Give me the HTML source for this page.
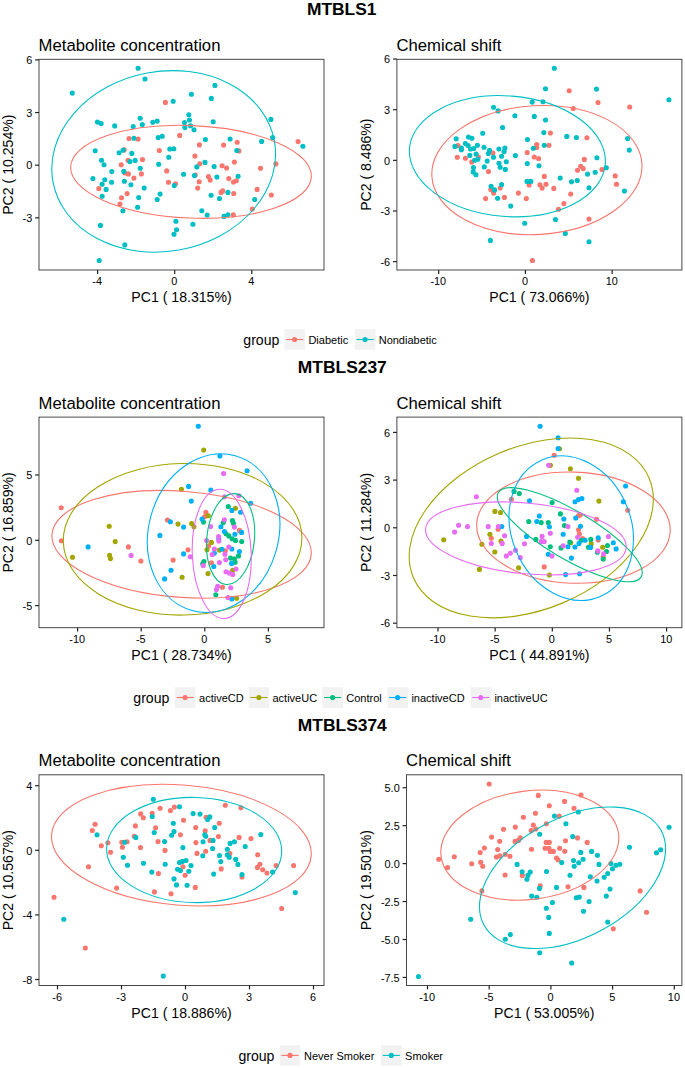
<!DOCTYPE html>
<html><head><meta charset="utf-8"><style>
html,body{margin:0;padding:0;background:#fff;}
body{width:685px;height:1068px;overflow:hidden;}
svg text{font-family:"Liberation Sans", sans-serif;}
</style></head><body>
<svg width="685" height="1068" viewBox="0 0 685 1068" style="display:block">
<rect width="685" height="1068" fill="#fff"/>
<text x="341.70" y="15.35" font-size="17.4" text-anchor="middle" font-weight="bold" fill="#000" >MTBLS1</text>
<text x="342.30" y="372.95" font-size="17.4" text-anchor="middle" font-weight="bold" fill="#000" >MTBLS237</text>
<text x="342.30" y="730.55" font-size="17.4" text-anchor="middle" font-weight="bold" fill="#000" >MTBLS374</text>
<clipPath id="cP1L"><rect x="39.0" y="59.3" width="285.0" height="210.7"/></clipPath>
<g clip-path="url(#cP1L)">
<circle cx="165.4" cy="102.4" r="2.55" fill="#F8766D"/>
<circle cx="129.0" cy="138.5" r="2.55" fill="#F8766D"/>
<circle cx="138.1" cy="139.1" r="2.55" fill="#F8766D"/>
<circle cx="179.7" cy="135.4" r="2.55" fill="#F8766D"/>
<circle cx="124.2" cy="149.9" r="2.55" fill="#F8766D"/>
<circle cx="159.3" cy="150.5" r="2.55" fill="#F8766D"/>
<circle cx="128.0" cy="160.2" r="2.55" fill="#F8766D"/>
<circle cx="142.5" cy="159.5" r="2.55" fill="#F8766D"/>
<circle cx="121.2" cy="164.8" r="2.55" fill="#F8766D"/>
<circle cx="199.4" cy="144.9" r="2.55" fill="#F8766D"/>
<circle cx="223.6" cy="145.1" r="2.55" fill="#F8766D"/>
<circle cx="237.2" cy="142.3" r="2.55" fill="#F8766D"/>
<circle cx="238.9" cy="150.9" r="2.55" fill="#F8766D"/>
<circle cx="298.1" cy="141.6" r="2.55" fill="#F8766D"/>
<circle cx="194.9" cy="156.1" r="2.55" fill="#F8766D"/>
<circle cx="199.8" cy="163.7" r="2.55" fill="#F8766D"/>
<circle cx="234.4" cy="162.1" r="2.55" fill="#F8766D"/>
<circle cx="222.1" cy="165.8" r="2.55" fill="#F8766D"/>
<circle cx="275.9" cy="163.9" r="2.55" fill="#F8766D"/>
<circle cx="166.7" cy="170.9" r="2.55" fill="#F8766D"/>
<circle cx="125.0" cy="173.0" r="2.55" fill="#F8766D"/>
<circle cx="128.4" cy="173.9" r="2.55" fill="#F8766D"/>
<circle cx="141.4" cy="173.9" r="2.55" fill="#F8766D"/>
<circle cx="133.9" cy="178.1" r="2.55" fill="#F8766D"/>
<circle cx="168.5" cy="182.3" r="2.55" fill="#F8766D"/>
<circle cx="175.5" cy="183.8" r="2.55" fill="#F8766D"/>
<circle cx="98.8" cy="188.6" r="2.55" fill="#F8766D"/>
<circle cx="127.1" cy="193.6" r="2.55" fill="#F8766D"/>
<circle cx="121.5" cy="197.8" r="2.55" fill="#F8766D"/>
<circle cx="120.0" cy="204.1" r="2.55" fill="#F8766D"/>
<circle cx="226.6" cy="168.0" r="2.55" fill="#F8766D"/>
<circle cx="260.5" cy="168.2" r="2.55" fill="#F8766D"/>
<circle cx="195.3" cy="175.1" r="2.55" fill="#F8766D"/>
<circle cx="208.5" cy="176.6" r="2.55" fill="#F8766D"/>
<circle cx="210.2" cy="180.1" r="2.55" fill="#F8766D"/>
<circle cx="199.2" cy="181.8" r="2.55" fill="#F8766D"/>
<circle cx="228.8" cy="178.6" r="2.55" fill="#F8766D"/>
<circle cx="233.5" cy="182.0" r="2.55" fill="#F8766D"/>
<circle cx="236.3" cy="180.7" r="2.55" fill="#F8766D"/>
<circle cx="197.7" cy="188.1" r="2.55" fill="#F8766D"/>
<circle cx="221.0" cy="192.4" r="2.55" fill="#F8766D"/>
<circle cx="222.7" cy="190.9" r="2.55" fill="#F8766D"/>
<circle cx="233.7" cy="193.5" r="2.55" fill="#F8766D"/>
<circle cx="257.1" cy="189.4" r="2.55" fill="#F8766D"/>
<circle cx="271.3" cy="195.0" r="2.55" fill="#F8766D"/>
<circle cx="252.3" cy="209.0" r="2.55" fill="#F8766D"/>
<circle cx="233.3" cy="214.9" r="2.55" fill="#F8766D"/>
<circle cx="138.1" cy="68.3" r="2.55" fill="#00BFC4"/>
<circle cx="145.0" cy="79.0" r="2.55" fill="#00BFC4"/>
<circle cx="72.3" cy="93.1" r="2.55" fill="#00BFC4"/>
<circle cx="173.2" cy="101.3" r="2.55" fill="#00BFC4"/>
<circle cx="97.5" cy="122.1" r="2.55" fill="#00BFC4"/>
<circle cx="101.1" cy="123.6" r="2.55" fill="#00BFC4"/>
<circle cx="114.7" cy="125.9" r="2.55" fill="#00BFC4"/>
<circle cx="133.2" cy="126.5" r="2.55" fill="#00BFC4"/>
<circle cx="140.2" cy="118.3" r="2.55" fill="#00BFC4"/>
<circle cx="142.3" cy="124.6" r="2.55" fill="#00BFC4"/>
<circle cx="152.8" cy="122.3" r="2.55" fill="#00BFC4"/>
<circle cx="157.2" cy="121.1" r="2.55" fill="#00BFC4"/>
<circle cx="133.9" cy="138.3" r="2.55" fill="#00BFC4"/>
<circle cx="158.2" cy="137.5" r="2.55" fill="#00BFC4"/>
<circle cx="162.2" cy="136.2" r="2.55" fill="#00BFC4"/>
<circle cx="95.2" cy="150.7" r="2.55" fill="#00BFC4"/>
<circle cx="119.1" cy="152.8" r="2.55" fill="#00BFC4"/>
<circle cx="123.1" cy="150.1" r="2.55" fill="#00BFC4"/>
<circle cx="131.8" cy="153.4" r="2.55" fill="#00BFC4"/>
<circle cx="169.8" cy="149.0" r="2.55" fill="#00BFC4"/>
<circle cx="173.8" cy="148.8" r="2.55" fill="#00BFC4"/>
<circle cx="168.8" cy="157.2" r="2.55" fill="#00BFC4"/>
<circle cx="101.5" cy="160.2" r="2.55" fill="#00BFC4"/>
<circle cx="129.9" cy="161.6" r="2.55" fill="#00BFC4"/>
<circle cx="135.1" cy="160.4" r="2.55" fill="#00BFC4"/>
<circle cx="104.0" cy="164.8" r="2.55" fill="#00BFC4"/>
<circle cx="158.7" cy="164.2" r="2.55" fill="#00BFC4"/>
<circle cx="214.9" cy="85.4" r="2.55" fill="#00BFC4"/>
<circle cx="191.4" cy="94.3" r="2.55" fill="#00BFC4"/>
<circle cx="211.3" cy="98.4" r="2.55" fill="#00BFC4"/>
<circle cx="188.8" cy="114.8" r="2.55" fill="#00BFC4"/>
<circle cx="189.5" cy="120.0" r="2.55" fill="#00BFC4"/>
<circle cx="184.5" cy="122.6" r="2.55" fill="#00BFC4"/>
<circle cx="184.9" cy="127.6" r="2.55" fill="#00BFC4"/>
<circle cx="190.5" cy="125.8" r="2.55" fill="#00BFC4"/>
<circle cx="194.0" cy="129.7" r="2.55" fill="#00BFC4"/>
<circle cx="213.2" cy="121.7" r="2.55" fill="#00BFC4"/>
<circle cx="270.9" cy="119.4" r="2.55" fill="#00BFC4"/>
<circle cx="205.4" cy="139.5" r="2.55" fill="#00BFC4"/>
<circle cx="230.1" cy="139.0" r="2.55" fill="#00BFC4"/>
<circle cx="261.6" cy="141.4" r="2.55" fill="#00BFC4"/>
<circle cx="272.6" cy="137.5" r="2.55" fill="#00BFC4"/>
<circle cx="302.9" cy="146.2" r="2.55" fill="#00BFC4"/>
<circle cx="236.8" cy="150.5" r="2.55" fill="#00BFC4"/>
<circle cx="205.0" cy="162.4" r="2.55" fill="#00BFC4"/>
<circle cx="196.8" cy="166.9" r="2.55" fill="#00BFC4"/>
<circle cx="214.1" cy="166.5" r="2.55" fill="#00BFC4"/>
<circle cx="111.8" cy="171.6" r="2.55" fill="#00BFC4"/>
<circle cx="123.8" cy="171.4" r="2.55" fill="#00BFC4"/>
<circle cx="140.2" cy="168.2" r="2.55" fill="#00BFC4"/>
<circle cx="92.9" cy="178.5" r="2.55" fill="#00BFC4"/>
<circle cx="104.8" cy="179.8" r="2.55" fill="#00BFC4"/>
<circle cx="102.1" cy="184.2" r="2.55" fill="#00BFC4"/>
<circle cx="111.6" cy="182.3" r="2.55" fill="#00BFC4"/>
<circle cx="124.4" cy="181.2" r="2.55" fill="#00BFC4"/>
<circle cx="106.1" cy="189.4" r="2.55" fill="#00BFC4"/>
<circle cx="130.9" cy="184.8" r="2.55" fill="#00BFC4"/>
<circle cx="144.2" cy="188.0" r="2.55" fill="#00BFC4"/>
<circle cx="102.1" cy="196.2" r="2.55" fill="#00BFC4"/>
<circle cx="138.7" cy="197.6" r="2.55" fill="#00BFC4"/>
<circle cx="160.1" cy="194.1" r="2.55" fill="#00BFC4"/>
<circle cx="157.2" cy="199.5" r="2.55" fill="#00BFC4"/>
<circle cx="174.2" cy="185.6" r="2.55" fill="#00BFC4"/>
<circle cx="137.6" cy="207.3" r="2.55" fill="#00BFC4"/>
<circle cx="122.9" cy="210.7" r="2.55" fill="#00BFC4"/>
<circle cx="100.4" cy="225.4" r="2.55" fill="#00BFC4"/>
<circle cx="175.9" cy="221.2" r="2.55" fill="#00BFC4"/>
<circle cx="176.5" cy="229.8" r="2.55" fill="#00BFC4"/>
<circle cx="174.0" cy="234.2" r="2.55" fill="#00BFC4"/>
<circle cx="124.8" cy="244.9" r="2.55" fill="#00BFC4"/>
<circle cx="99.2" cy="260.5" r="2.55" fill="#00BFC4"/>
<circle cx="183.6" cy="174.3" r="2.55" fill="#00BFC4"/>
<circle cx="194.4" cy="175.6" r="2.55" fill="#00BFC4"/>
<circle cx="216.9" cy="177.1" r="2.55" fill="#00BFC4"/>
<circle cx="238.1" cy="176.2" r="2.55" fill="#00BFC4"/>
<circle cx="211.1" cy="195.2" r="2.55" fill="#00BFC4"/>
<circle cx="219.5" cy="198.5" r="2.55" fill="#00BFC4"/>
<circle cx="227.9" cy="192.4" r="2.55" fill="#00BFC4"/>
<circle cx="254.7" cy="199.5" r="2.55" fill="#00BFC4"/>
<circle cx="201.8" cy="210.8" r="2.55" fill="#00BFC4"/>
<circle cx="207.2" cy="215.1" r="2.55" fill="#00BFC4"/>
<circle cx="224.0" cy="216.4" r="2.55" fill="#00BFC4"/>
<circle cx="227.9" cy="214.7" r="2.55" fill="#00BFC4"/>
<circle cx="192.9" cy="224.2" r="2.55" fill="#00BFC4"/>
<ellipse cx="191.00" cy="171.80" rx="46.26" ry="120.44" transform="rotate(-87.59 191.00 171.80)" fill="none" stroke="#F8766D" stroke-width="1.1"/>
<ellipse cx="163.70" cy="161.40" rx="89.94" ry="112.59" transform="rotate(-100.62 163.70 161.40)" fill="none" stroke="#00BFC4" stroke-width="1.1"/>
</g>
<rect x="39.0" y="59.3" width="285.00" height="210.70" fill="none" stroke="#333333" stroke-width="0.9"/>
<line x1="97.60" y1="270.0" x2="97.60" y2="273.9" stroke="#222" stroke-width="1.2"/>
<text x="97.20" y="285.20" font-size="10.9" text-anchor="middle" font-weight="normal" fill="#000" >-4</text>
<line x1="174.70" y1="270.0" x2="174.70" y2="273.9" stroke="#222" stroke-width="1.2"/>
<text x="174.30" y="285.20" font-size="10.9" text-anchor="middle" font-weight="normal" fill="#000" >0</text>
<line x1="251.80" y1="270.0" x2="251.80" y2="273.9" stroke="#222" stroke-width="1.2"/>
<text x="251.40" y="285.20" font-size="10.9" text-anchor="middle" font-weight="normal" fill="#000" >4</text>
<line x1="35.1" y1="59.90" x2="39.0" y2="59.90" stroke="#222" stroke-width="1.2"/>
<text x="32.20" y="64.10" font-size="10.9" text-anchor="end" font-weight="normal" fill="#000" >6</text>
<line x1="35.1" y1="112.55" x2="39.0" y2="112.55" stroke="#222" stroke-width="1.2"/>
<text x="32.20" y="116.75" font-size="10.9" text-anchor="end" font-weight="normal" fill="#000" >3</text>
<line x1="35.1" y1="165.20" x2="39.0" y2="165.20" stroke="#222" stroke-width="1.2"/>
<text x="32.20" y="169.40" font-size="10.9" text-anchor="end" font-weight="normal" fill="#000" >0</text>
<line x1="35.1" y1="217.85" x2="39.0" y2="217.85" stroke="#222" stroke-width="1.2"/>
<text x="32.20" y="222.05" font-size="10.9" text-anchor="end" font-weight="normal" fill="#000" >-3</text>
<text x="38.60" y="50.80" font-size="16.7" text-anchor="start" font-weight="normal" fill="#000" >Metabolite concentration</text>
<text x="181.50" y="302.40" font-size="14.1" text-anchor="middle" font-weight="normal" fill="#000" >PC1 ( 18.315%)</text>
<text x="0.00" y="0.00" font-size="14.1" text-anchor="middle" font-weight="normal" fill="#000" transform="translate(13.40,164.65) rotate(-90)">PC2 ( 10.254%)</text>
<clipPath id="cP1R"><rect x="396.9" y="59.3" width="285.0" height="210.7"/></clipPath>
<g clip-path="url(#cP1R)">
<circle cx="457.3" cy="157.2" r="2.55" fill="#F8766D"/>
<circle cx="465.4" cy="158.2" r="2.55" fill="#F8766D"/>
<circle cx="471.7" cy="162.1" r="2.55" fill="#F8766D"/>
<circle cx="458.0" cy="145.5" r="2.55" fill="#F8766D"/>
<circle cx="478.3" cy="157.0" r="2.55" fill="#F8766D"/>
<circle cx="492.9" cy="153.1" r="2.55" fill="#F8766D"/>
<circle cx="488.5" cy="171.6" r="2.55" fill="#F8766D"/>
<circle cx="500.2" cy="188.0" r="2.55" fill="#F8766D"/>
<circle cx="493.6" cy="193.1" r="2.55" fill="#F8766D"/>
<circle cx="485.6" cy="198.6" r="2.55" fill="#F8766D"/>
<circle cx="504.4" cy="197.4" r="2.55" fill="#F8766D"/>
<circle cx="518.4" cy="193.1" r="2.55" fill="#F8766D"/>
<circle cx="526.3" cy="198.6" r="2.55" fill="#F8766D"/>
<circle cx="527.2" cy="152.5" r="2.55" fill="#F8766D"/>
<circle cx="536.7" cy="144.6" r="2.55" fill="#F8766D"/>
<circle cx="536.7" cy="147.5" r="2.55" fill="#F8766D"/>
<circle cx="534.2" cy="157.0" r="2.55" fill="#F8766D"/>
<circle cx="538.6" cy="158.5" r="2.55" fill="#F8766D"/>
<circle cx="529.1" cy="184.9" r="2.55" fill="#F8766D"/>
<circle cx="539.9" cy="184.7" r="2.55" fill="#F8766D"/>
<circle cx="542.1" cy="188.1" r="2.55" fill="#F8766D"/>
<circle cx="544.3" cy="176.4" r="2.55" fill="#F8766D"/>
<circle cx="490.8" cy="189.5" r="2.55" fill="#F8766D"/>
<circle cx="569.2" cy="90.8" r="2.55" fill="#F8766D"/>
<circle cx="598.0" cy="102.5" r="2.55" fill="#F8766D"/>
<circle cx="629.7" cy="107.0" r="2.55" fill="#F8766D"/>
<circle cx="573.2" cy="108.5" r="2.55" fill="#F8766D"/>
<circle cx="550.4" cy="133.0" r="2.55" fill="#F8766D"/>
<circle cx="548.9" cy="145.2" r="2.55" fill="#F8766D"/>
<circle cx="586.9" cy="137.7" r="2.55" fill="#F8766D"/>
<circle cx="584.3" cy="159.4" r="2.55" fill="#F8766D"/>
<circle cx="532.4" cy="260.5" r="2.55" fill="#F8766D"/>
<circle cx="546.0" cy="184.2" r="2.55" fill="#F8766D"/>
<circle cx="553.8" cy="188.4" r="2.55" fill="#F8766D"/>
<circle cx="570.7" cy="194.0" r="2.55" fill="#F8766D"/>
<circle cx="563.9" cy="203.6" r="2.55" fill="#F8766D"/>
<circle cx="558.5" cy="209.3" r="2.55" fill="#F8766D"/>
<circle cx="577.5" cy="170.3" r="2.55" fill="#F8766D"/>
<circle cx="580.7" cy="166.2" r="2.55" fill="#F8766D"/>
<circle cx="583.2" cy="168.6" r="2.55" fill="#F8766D"/>
<circle cx="602.0" cy="169.5" r="2.55" fill="#F8766D"/>
<circle cx="615.2" cy="175.9" r="2.55" fill="#F8766D"/>
<circle cx="616.5" cy="184.2" r="2.55" fill="#F8766D"/>
<circle cx="589.0" cy="219.1" r="2.55" fill="#F8766D"/>
<circle cx="532.2" cy="102.1" r="2.55" fill="#00BFC4"/>
<circle cx="493.6" cy="107.2" r="2.55" fill="#00BFC4"/>
<circle cx="498.1" cy="110.9" r="2.55" fill="#00BFC4"/>
<circle cx="514.9" cy="115.8" r="2.55" fill="#00BFC4"/>
<circle cx="534.3" cy="116.4" r="2.55" fill="#00BFC4"/>
<circle cx="502.6" cy="127.5" r="2.55" fill="#00BFC4"/>
<circle cx="482.7" cy="133.2" r="2.55" fill="#00BFC4"/>
<circle cx="456.2" cy="138.8" r="2.55" fill="#00BFC4"/>
<circle cx="468.4" cy="137.0" r="2.55" fill="#00BFC4"/>
<circle cx="471.9" cy="138.3" r="2.55" fill="#00BFC4"/>
<circle cx="454.9" cy="146.4" r="2.55" fill="#00BFC4"/>
<circle cx="465.4" cy="143.6" r="2.55" fill="#00BFC4"/>
<circle cx="468.1" cy="145.5" r="2.55" fill="#00BFC4"/>
<circle cx="461.4" cy="148.1" r="2.55" fill="#00BFC4"/>
<circle cx="461.4" cy="149.7" r="2.55" fill="#00BFC4"/>
<circle cx="470.5" cy="149.0" r="2.55" fill="#00BFC4"/>
<circle cx="473.8" cy="148.5" r="2.55" fill="#00BFC4"/>
<circle cx="477.4" cy="145.3" r="2.55" fill="#00BFC4"/>
<circle cx="484.0" cy="147.2" r="2.55" fill="#00BFC4"/>
<circle cx="489.5" cy="150.4" r="2.55" fill="#00BFC4"/>
<circle cx="488.4" cy="153.6" r="2.55" fill="#00BFC4"/>
<circle cx="469.8" cy="155.4" r="2.55" fill="#00BFC4"/>
<circle cx="476.1" cy="154.1" r="2.55" fill="#00BFC4"/>
<circle cx="474.6" cy="160.2" r="2.55" fill="#00BFC4"/>
<circle cx="477.8" cy="159.2" r="2.55" fill="#00BFC4"/>
<circle cx="493.5" cy="157.2" r="2.55" fill="#00BFC4"/>
<circle cx="498.9" cy="149.0" r="2.55" fill="#00BFC4"/>
<circle cx="504.9" cy="148.0" r="2.55" fill="#00BFC4"/>
<circle cx="504.1" cy="151.6" r="2.55" fill="#00BFC4"/>
<circle cx="501.6" cy="156.3" r="2.55" fill="#00BFC4"/>
<circle cx="487.2" cy="161.1" r="2.55" fill="#00BFC4"/>
<circle cx="506.3" cy="161.8" r="2.55" fill="#00BFC4"/>
<circle cx="499.0" cy="163.3" r="2.55" fill="#00BFC4"/>
<circle cx="500.2" cy="167.2" r="2.55" fill="#00BFC4"/>
<circle cx="505.3" cy="169.4" r="2.55" fill="#00BFC4"/>
<circle cx="484.3" cy="166.9" r="2.55" fill="#00BFC4"/>
<circle cx="473.5" cy="167.5" r="2.55" fill="#00BFC4"/>
<circle cx="473.2" cy="171.9" r="2.55" fill="#00BFC4"/>
<circle cx="475.9" cy="174.8" r="2.55" fill="#00BFC4"/>
<circle cx="515.4" cy="155.5" r="2.55" fill="#00BFC4"/>
<circle cx="527.5" cy="139.5" r="2.55" fill="#00BFC4"/>
<circle cx="533.3" cy="148.2" r="2.55" fill="#00BFC4"/>
<circle cx="527.3" cy="163.6" r="2.55" fill="#00BFC4"/>
<circle cx="539.0" cy="165.8" r="2.55" fill="#00BFC4"/>
<circle cx="543.8" cy="132.6" r="2.55" fill="#00BFC4"/>
<circle cx="544.3" cy="145.3" r="2.55" fill="#00BFC4"/>
<circle cx="527.0" cy="181.4" r="2.55" fill="#00BFC4"/>
<circle cx="530.8" cy="181.4" r="2.55" fill="#00BFC4"/>
<circle cx="491.1" cy="186.2" r="2.55" fill="#00BFC4"/>
<circle cx="494.6" cy="189.9" r="2.55" fill="#00BFC4"/>
<circle cx="501.6" cy="184.5" r="2.55" fill="#00BFC4"/>
<circle cx="497.6" cy="198.3" r="2.55" fill="#00BFC4"/>
<circle cx="554.3" cy="68.2" r="2.55" fill="#00BFC4"/>
<circle cx="545.5" cy="88.7" r="2.55" fill="#00BFC4"/>
<circle cx="596.5" cy="89.1" r="2.55" fill="#00BFC4"/>
<circle cx="668.9" cy="99.8" r="2.55" fill="#00BFC4"/>
<circle cx="543.0" cy="101.7" r="2.55" fill="#00BFC4"/>
<circle cx="545.5" cy="120.0" r="2.55" fill="#00BFC4"/>
<circle cx="566.8" cy="136.4" r="2.55" fill="#00BFC4"/>
<circle cx="576.4" cy="137.5" r="2.55" fill="#00BFC4"/>
<circle cx="627.6" cy="138.6" r="2.55" fill="#00BFC4"/>
<circle cx="629.3" cy="150.1" r="2.55" fill="#00BFC4"/>
<circle cx="596.9" cy="157.7" r="2.55" fill="#00BFC4"/>
<circle cx="510.7" cy="206.1" r="2.55" fill="#00BFC4"/>
<circle cx="524.7" cy="223.2" r="2.55" fill="#00BFC4"/>
<circle cx="490.4" cy="240.4" r="2.55" fill="#00BFC4"/>
<circle cx="560.2" cy="178.0" r="2.55" fill="#00BFC4"/>
<circle cx="571.5" cy="181.8" r="2.55" fill="#00BFC4"/>
<circle cx="577.3" cy="180.5" r="2.55" fill="#00BFC4"/>
<circle cx="587.5" cy="174.1" r="2.55" fill="#00BFC4"/>
<circle cx="595.2" cy="172.2" r="2.55" fill="#00BFC4"/>
<circle cx="606.3" cy="167.8" r="2.55" fill="#00BFC4"/>
<circle cx="589.0" cy="187.8" r="2.55" fill="#00BFC4"/>
<circle cx="624.4" cy="191.0" r="2.55" fill="#00BFC4"/>
<circle cx="555.5" cy="219.5" r="2.55" fill="#00BFC4"/>
<circle cx="565.3" cy="233.4" r="2.55" fill="#00BFC4"/>
<circle cx="589.0" cy="241.7" r="2.55" fill="#00BFC4"/>
<ellipse cx="536.90" cy="170.10" rx="64.40" ry="105.22" transform="rotate(-93.48 536.90 170.10)" fill="none" stroke="#F8766D" stroke-width="1.1"/>
<ellipse cx="507.40" cy="156.20" rx="60.28" ry="98.20" transform="rotate(-85.40 507.40 156.20)" fill="none" stroke="#00BFC4" stroke-width="1.1"/>
</g>
<rect x="396.9" y="59.3" width="285.00" height="210.70" fill="none" stroke="#333333" stroke-width="0.9"/>
<line x1="438.70" y1="270.0" x2="438.70" y2="273.9" stroke="#222" stroke-width="1.2"/>
<text x="438.30" y="285.20" font-size="10.9" text-anchor="middle" font-weight="normal" fill="#000" >-10</text>
<line x1="525.40" y1="270.0" x2="525.40" y2="273.9" stroke="#222" stroke-width="1.2"/>
<text x="525.00" y="285.20" font-size="10.9" text-anchor="middle" font-weight="normal" fill="#000" >0</text>
<line x1="612.10" y1="270.0" x2="612.10" y2="273.9" stroke="#222" stroke-width="1.2"/>
<text x="611.70" y="285.20" font-size="10.9" text-anchor="middle" font-weight="normal" fill="#000" >10</text>
<line x1="393.0" y1="59.05" x2="396.9" y2="59.05" stroke="#222" stroke-width="1.2"/>
<text x="390.10" y="63.25" font-size="10.9" text-anchor="end" font-weight="normal" fill="#000" >6</text>
<line x1="393.0" y1="109.70" x2="396.9" y2="109.70" stroke="#222" stroke-width="1.2"/>
<text x="390.10" y="113.90" font-size="10.9" text-anchor="end" font-weight="normal" fill="#000" >3</text>
<line x1="393.0" y1="160.35" x2="396.9" y2="160.35" stroke="#222" stroke-width="1.2"/>
<text x="390.10" y="164.55" font-size="10.9" text-anchor="end" font-weight="normal" fill="#000" >0</text>
<line x1="393.0" y1="211.00" x2="396.9" y2="211.00" stroke="#222" stroke-width="1.2"/>
<text x="390.10" y="215.20" font-size="10.9" text-anchor="end" font-weight="normal" fill="#000" >-3</text>
<line x1="393.0" y1="261.65" x2="396.9" y2="261.65" stroke="#222" stroke-width="1.2"/>
<text x="390.10" y="265.85" font-size="10.9" text-anchor="end" font-weight="normal" fill="#000" >-6</text>
<text x="396.50" y="50.80" font-size="16.7" text-anchor="start" font-weight="normal" fill="#000" >Chemical shift</text>
<text x="539.40" y="302.40" font-size="14.1" text-anchor="middle" font-weight="normal" fill="#000" >PC1 ( 73.066%)</text>
<text x="0.00" y="0.00" font-size="14.1" text-anchor="middle" font-weight="normal" fill="#000" transform="translate(370.90,164.65) rotate(-90)">PC2 ( 8.486%)</text>
<clipPath id="cP2L"><rect x="39.0" y="417.1" width="285.0" height="210.60000000000002"/></clipPath>
<g clip-path="url(#cP2L)">
<circle cx="61.2" cy="507.9" r="2.55" fill="#F8766D"/>
<circle cx="61.4" cy="540.7" r="2.55" fill="#F8766D"/>
<circle cx="128.4" cy="546.9" r="2.55" fill="#F8766D"/>
<circle cx="140.9" cy="561.0" r="2.55" fill="#F8766D"/>
<circle cx="167.4" cy="520.0" r="2.55" fill="#F8766D"/>
<circle cx="173.1" cy="560.1" r="2.55" fill="#F8766D"/>
<circle cx="205.9" cy="512.4" r="2.55" fill="#F8766D"/>
<circle cx="204.6" cy="516.8" r="2.55" fill="#F8766D"/>
<circle cx="239.4" cy="530.4" r="2.55" fill="#F8766D"/>
<circle cx="208.6" cy="545.9" r="2.55" fill="#F8766D"/>
<circle cx="225.3" cy="550.9" r="2.55" fill="#F8766D"/>
<circle cx="188.0" cy="549.8" r="2.55" fill="#F8766D"/>
<circle cx="211.4" cy="562.7" r="2.55" fill="#F8766D"/>
<circle cx="222.4" cy="587.3" r="2.55" fill="#F8766D"/>
<circle cx="181.4" cy="489.3" r="2.55" fill="#A3A500"/>
<circle cx="72.5" cy="557.3" r="2.55" fill="#A3A500"/>
<circle cx="109.2" cy="526.2" r="2.55" fill="#A3A500"/>
<circle cx="115.2" cy="541.6" r="2.55" fill="#A3A500"/>
<circle cx="109.6" cy="555.4" r="2.55" fill="#A3A500"/>
<circle cx="110.5" cy="558.6" r="2.55" fill="#A3A500"/>
<circle cx="178.0" cy="524.1" r="2.55" fill="#A3A500"/>
<circle cx="182.1" cy="577.2" r="2.55" fill="#A3A500"/>
<circle cx="203.7" cy="450.1" r="2.55" fill="#A3A500"/>
<circle cx="235.5" cy="508.2" r="2.55" fill="#A3A500"/>
<circle cx="208.3" cy="515.7" r="2.55" fill="#A3A500"/>
<circle cx="191.6" cy="523.5" r="2.55" fill="#A3A500"/>
<circle cx="193.9" cy="526.8" r="2.55" fill="#A3A500"/>
<circle cx="211.4" cy="542.4" r="2.55" fill="#A3A500"/>
<circle cx="207.0" cy="549.8" r="2.55" fill="#A3A500"/>
<circle cx="219.4" cy="550.1" r="2.55" fill="#A3A500"/>
<circle cx="232.7" cy="570.4" r="2.55" fill="#A3A500"/>
<circle cx="208.0" cy="573.6" r="2.55" fill="#A3A500"/>
<circle cx="236.6" cy="598.2" r="2.55" fill="#A3A500"/>
<circle cx="228.3" cy="506.5" r="2.55" fill="#00BF7D"/>
<circle cx="203.5" cy="522.1" r="2.55" fill="#00BF7D"/>
<circle cx="223.3" cy="522.6" r="2.55" fill="#00BF7D"/>
<circle cx="232.4" cy="520.6" r="2.55" fill="#00BF7D"/>
<circle cx="233.5" cy="523.4" r="2.55" fill="#00BF7D"/>
<circle cx="226.0" cy="533.7" r="2.55" fill="#00BF7D"/>
<circle cx="228.8" cy="535.9" r="2.55" fill="#00BF7D"/>
<circle cx="232.1" cy="538.7" r="2.55" fill="#00BF7D"/>
<circle cx="235.5" cy="540.4" r="2.55" fill="#00BF7D"/>
<circle cx="241.7" cy="541.5" r="2.55" fill="#00BF7D"/>
<circle cx="238.5" cy="555.9" r="2.55" fill="#00BF7D"/>
<circle cx="230.5" cy="558.1" r="2.55" fill="#00BF7D"/>
<circle cx="234.4" cy="558.7" r="2.55" fill="#00BF7D"/>
<circle cx="203.9" cy="561.5" r="2.55" fill="#00BF7D"/>
<circle cx="202.7" cy="563.8" r="2.55" fill="#00BF7D"/>
<circle cx="235.1" cy="562.3" r="2.55" fill="#00BF7D"/>
<circle cx="215.8" cy="594.8" r="2.55" fill="#00BF7D"/>
<circle cx="88.1" cy="546.9" r="2.55" fill="#00B0F6"/>
<circle cx="170.4" cy="521.8" r="2.55" fill="#00B0F6"/>
<circle cx="183.6" cy="527.1" r="2.55" fill="#00B0F6"/>
<circle cx="159.9" cy="535.4" r="2.55" fill="#00B0F6"/>
<circle cx="183.6" cy="553.9" r="2.55" fill="#00B0F6"/>
<circle cx="171.0" cy="570.3" r="2.55" fill="#00B0F6"/>
<circle cx="164.6" cy="578.9" r="2.55" fill="#00B0F6"/>
<circle cx="198.3" cy="426.2" r="2.55" fill="#00B0F6"/>
<circle cx="219.9" cy="456.0" r="2.55" fill="#00B0F6"/>
<circle cx="247.1" cy="470.7" r="2.55" fill="#00B0F6"/>
<circle cx="188.6" cy="486.4" r="2.55" fill="#00B0F6"/>
<circle cx="210.8" cy="490.1" r="2.55" fill="#00B0F6"/>
<circle cx="250.7" cy="503.2" r="2.55" fill="#00B0F6"/>
<circle cx="191.3" cy="501.1" r="2.55" fill="#00B0F6"/>
<circle cx="231.9" cy="510.4" r="2.55" fill="#00B0F6"/>
<circle cx="240.6" cy="512.2" r="2.55" fill="#00B0F6"/>
<circle cx="202.0" cy="519.0" r="2.55" fill="#00B0F6"/>
<circle cx="220.9" cy="526.8" r="2.55" fill="#00B0F6"/>
<circle cx="224.4" cy="531.5" r="2.55" fill="#00B0F6"/>
<circle cx="234.9" cy="534.3" r="2.55" fill="#00B0F6"/>
<circle cx="241.6" cy="532.4" r="2.55" fill="#00B0F6"/>
<circle cx="218.8" cy="538.7" r="2.55" fill="#00B0F6"/>
<circle cx="221.9" cy="549.2" r="2.55" fill="#00B0F6"/>
<circle cx="231.9" cy="549.0" r="2.55" fill="#00B0F6"/>
<circle cx="239.4" cy="551.5" r="2.55" fill="#00B0F6"/>
<circle cx="214.4" cy="553.1" r="2.55" fill="#00B0F6"/>
<circle cx="213.8" cy="566.5" r="2.55" fill="#00B0F6"/>
<circle cx="231.6" cy="563.4" r="2.55" fill="#00B0F6"/>
<circle cx="231.8" cy="598.9" r="2.55" fill="#00B0F6"/>
<circle cx="131.1" cy="555.4" r="2.55" fill="#E76BF3"/>
<circle cx="223.6" cy="473.5" r="2.55" fill="#E76BF3"/>
<circle cx="224.6" cy="496.8" r="2.55" fill="#E76BF3"/>
<circle cx="238.8" cy="495.7" r="2.55" fill="#E76BF3"/>
<circle cx="224.4" cy="519.8" r="2.55" fill="#E76BF3"/>
<circle cx="234.4" cy="527.1" r="2.55" fill="#E76BF3"/>
<circle cx="210.6" cy="526.5" r="2.55" fill="#E76BF3"/>
<circle cx="218.6" cy="536.5" r="2.55" fill="#E76BF3"/>
<circle cx="218.8" cy="540.9" r="2.55" fill="#E76BF3"/>
<circle cx="206.6" cy="540.6" r="2.55" fill="#E76BF3"/>
<circle cx="214.4" cy="549.0" r="2.55" fill="#E76BF3"/>
<circle cx="228.8" cy="547.0" r="2.55" fill="#E76BF3"/>
<circle cx="224.9" cy="554.2" r="2.55" fill="#E76BF3"/>
<circle cx="212.2" cy="554.6" r="2.55" fill="#E76BF3"/>
<circle cx="190.2" cy="556.8" r="2.55" fill="#E76BF3"/>
<circle cx="203.3" cy="565.6" r="2.55" fill="#E76BF3"/>
<circle cx="219.4" cy="562.5" r="2.55" fill="#E76BF3"/>
<circle cx="225.7" cy="559.8" r="2.55" fill="#E76BF3"/>
<circle cx="236.0" cy="569.0" r="2.55" fill="#E76BF3"/>
<circle cx="226.0" cy="571.8" r="2.55" fill="#E76BF3"/>
<circle cx="229.4" cy="573.1" r="2.55" fill="#E76BF3"/>
<circle cx="232.7" cy="574.5" r="2.55" fill="#E76BF3"/>
<circle cx="217.7" cy="586.2" r="2.55" fill="#E76BF3"/>
<circle cx="216.4" cy="589.5" r="2.55" fill="#E76BF3"/>
<circle cx="230.7" cy="587.8" r="2.55" fill="#E76BF3"/>
<circle cx="227.9" cy="597.6" r="2.55" fill="#E76BF3"/>
<ellipse cx="181.60" cy="544.30" rx="53.01" ry="130.03" transform="rotate(-85.55 181.60 544.30)" fill="none" stroke="#F8766D" stroke-width="1.1"/>
<ellipse cx="182.60" cy="539.30" rx="75.78" ry="119.31" transform="rotate(-91.08 182.60 539.30)" fill="none" stroke="#A3A500" stroke-width="1.1"/>
<ellipse cx="230.60" cy="539.05" rx="23.79" ry="45.61" transform="rotate(-174.29 230.60 539.05)" fill="none" stroke="#00BF7D" stroke-width="1.1"/>
<ellipse cx="213.60" cy="533.10" rx="64.96" ry="80.32" transform="rotate(-164.34 213.60 533.10)" fill="none" stroke="#00B0F6" stroke-width="1.1"/>
<ellipse cx="221.75" cy="553.85" rx="29.46" ry="64.69" transform="rotate(177.75 221.75 553.85)" fill="none" stroke="#E76BF3" stroke-width="1.1"/>
</g>
<rect x="39.0" y="417.1" width="285.00" height="210.60" fill="none" stroke="#333333" stroke-width="0.9"/>
<line x1="77.60" y1="627.7" x2="77.60" y2="631.6" stroke="#222" stroke-width="1.2"/>
<text x="77.20" y="642.90" font-size="10.9" text-anchor="middle" font-weight="normal" fill="#000" >-10</text>
<line x1="141.20" y1="627.7" x2="141.20" y2="631.6" stroke="#222" stroke-width="1.2"/>
<text x="140.80" y="642.90" font-size="10.9" text-anchor="middle" font-weight="normal" fill="#000" >-5</text>
<line x1="204.80" y1="627.7" x2="204.80" y2="631.6" stroke="#222" stroke-width="1.2"/>
<text x="204.40" y="642.90" font-size="10.9" text-anchor="middle" font-weight="normal" fill="#000" >0</text>
<line x1="268.40" y1="627.7" x2="268.40" y2="631.6" stroke="#222" stroke-width="1.2"/>
<text x="268.00" y="642.90" font-size="10.9" text-anchor="middle" font-weight="normal" fill="#000" >5</text>
<line x1="35.1" y1="475.00" x2="39.0" y2="475.00" stroke="#222" stroke-width="1.2"/>
<text x="32.20" y="479.20" font-size="10.9" text-anchor="end" font-weight="normal" fill="#000" >5</text>
<line x1="35.1" y1="540.30" x2="39.0" y2="540.30" stroke="#222" stroke-width="1.2"/>
<text x="32.20" y="544.50" font-size="10.9" text-anchor="end" font-weight="normal" fill="#000" >0</text>
<line x1="35.1" y1="605.60" x2="39.0" y2="605.60" stroke="#222" stroke-width="1.2"/>
<text x="32.20" y="609.80" font-size="10.9" text-anchor="end" font-weight="normal" fill="#000" >-5</text>
<text x="38.60" y="408.60" font-size="16.7" text-anchor="start" font-weight="normal" fill="#000" >Metabolite concentration</text>
<text x="181.50" y="660.10" font-size="14.1" text-anchor="middle" font-weight="normal" fill="#000" >PC1 ( 28.734%)</text>
<text x="0.00" y="0.00" font-size="14.1" text-anchor="middle" font-weight="normal" fill="#000" transform="translate(13.40,522.40) rotate(-90)">PC2 ( 16.859%)</text>
<clipPath id="cP2R"><rect x="396.9" y="417.1" width="285.0" height="210.60000000000002"/></clipPath>
<g clip-path="url(#cP2R)">
<circle cx="554.2" cy="455.2" r="2.55" fill="#F8766D"/>
<circle cx="511.4" cy="499.3" r="2.55" fill="#F8766D"/>
<circle cx="498.1" cy="529.2" r="2.55" fill="#F8766D"/>
<circle cx="491.3" cy="538.3" r="2.55" fill="#F8766D"/>
<circle cx="578.5" cy="515.8" r="2.55" fill="#F8766D"/>
<circle cx="580.3" cy="514.9" r="2.55" fill="#F8766D"/>
<circle cx="596.5" cy="519.3" r="2.55" fill="#F8766D"/>
<circle cx="578.5" cy="529.8" r="2.55" fill="#F8766D"/>
<circle cx="579.4" cy="534.0" r="2.55" fill="#F8766D"/>
<circle cx="582.7" cy="538.6" r="2.55" fill="#F8766D"/>
<circle cx="598.2" cy="539.9" r="2.55" fill="#F8766D"/>
<circle cx="627.7" cy="510.2" r="2.55" fill="#F8766D"/>
<circle cx="544.2" cy="566.9" r="2.55" fill="#F8766D"/>
<circle cx="603.2" cy="557.1" r="2.55" fill="#F8766D"/>
<circle cx="559.5" cy="448.7" r="2.55" fill="#A3A500"/>
<circle cx="550.4" cy="465.3" r="2.55" fill="#A3A500"/>
<circle cx="570.4" cy="468.7" r="2.55" fill="#A3A500"/>
<circle cx="578.5" cy="478.2" r="2.55" fill="#A3A500"/>
<circle cx="443.7" cy="539.7" r="2.55" fill="#A3A500"/>
<circle cx="481.9" cy="544.2" r="2.55" fill="#A3A500"/>
<circle cx="489.9" cy="534.3" r="2.55" fill="#A3A500"/>
<circle cx="494.9" cy="511.4" r="2.55" fill="#A3A500"/>
<circle cx="500.5" cy="512.5" r="2.55" fill="#A3A500"/>
<circle cx="500.9" cy="541.0" r="2.55" fill="#A3A500"/>
<circle cx="598.9" cy="501.1" r="2.55" fill="#A3A500"/>
<circle cx="570.7" cy="542.8" r="2.55" fill="#A3A500"/>
<circle cx="591.2" cy="543.9" r="2.55" fill="#A3A500"/>
<circle cx="602.7" cy="547.3" r="2.55" fill="#A3A500"/>
<circle cx="479.4" cy="569.4" r="2.55" fill="#A3A500"/>
<circle cx="494.8" cy="552.0" r="2.55" fill="#A3A500"/>
<circle cx="518.6" cy="567.8" r="2.55" fill="#A3A500"/>
<circle cx="549.4" cy="575.0" r="2.55" fill="#A3A500"/>
<circle cx="514.0" cy="491.4" r="2.55" fill="#00BF7D"/>
<circle cx="519.3" cy="493.6" r="2.55" fill="#00BF7D"/>
<circle cx="528.7" cy="521.5" r="2.55" fill="#00BF7D"/>
<circle cx="541.2" cy="522.6" r="2.55" fill="#00BF7D"/>
<circle cx="535.9" cy="539.4" r="2.55" fill="#00BF7D"/>
<circle cx="552.1" cy="502.5" r="2.55" fill="#00BF7D"/>
<circle cx="560.4" cy="513.9" r="2.55" fill="#00BF7D"/>
<circle cx="548.3" cy="522.6" r="2.55" fill="#00BF7D"/>
<circle cx="564.5" cy="525.6" r="2.55" fill="#00BF7D"/>
<circle cx="569.8" cy="542.1" r="2.55" fill="#00BF7D"/>
<circle cx="581.2" cy="540.3" r="2.55" fill="#00BF7D"/>
<circle cx="590.8" cy="539.4" r="2.55" fill="#00BF7D"/>
<circle cx="607.5" cy="545.5" r="2.55" fill="#00BF7D"/>
<circle cx="606.5" cy="551.5" r="2.55" fill="#00BF7D"/>
<circle cx="550.3" cy="546.8" r="2.55" fill="#00BF7D"/>
<circle cx="561.0" cy="547.9" r="2.55" fill="#00BF7D"/>
<circle cx="588.4" cy="547.2" r="2.55" fill="#00BF7D"/>
<circle cx="597.4" cy="552.3" r="2.55" fill="#00BF7D"/>
<circle cx="603.2" cy="559.1" r="2.55" fill="#00BF7D"/>
<circle cx="540.1" cy="426.2" r="2.55" fill="#00B0F6"/>
<circle cx="558.1" cy="437.7" r="2.55" fill="#00B0F6"/>
<circle cx="558.1" cy="448.5" r="2.55" fill="#00B0F6"/>
<circle cx="625.6" cy="486.0" r="2.55" fill="#00B0F6"/>
<circle cx="529.5" cy="500.7" r="2.55" fill="#00B0F6"/>
<circle cx="539.3" cy="516.0" r="2.55" fill="#00B0F6"/>
<circle cx="536.8" cy="521.5" r="2.55" fill="#00B0F6"/>
<circle cx="501.8" cy="526.5" r="2.55" fill="#00B0F6"/>
<circle cx="526.6" cy="536.4" r="2.55" fill="#00B0F6"/>
<circle cx="575.0" cy="501.8" r="2.55" fill="#00B0F6"/>
<circle cx="578.5" cy="499.6" r="2.55" fill="#00B0F6"/>
<circle cx="581.9" cy="498.5" r="2.55" fill="#00B0F6"/>
<circle cx="575.7" cy="518.0" r="2.55" fill="#00B0F6"/>
<circle cx="563.8" cy="519.0" r="2.55" fill="#00B0F6"/>
<circle cx="549.4" cy="526.7" r="2.55" fill="#00B0F6"/>
<circle cx="580.5" cy="526.3" r="2.55" fill="#00B0F6"/>
<circle cx="563.2" cy="534.2" r="2.55" fill="#00B0F6"/>
<circle cx="585.1" cy="540.3" r="2.55" fill="#00B0F6"/>
<circle cx="598.2" cy="537.7" r="2.55" fill="#00B0F6"/>
<circle cx="579.0" cy="543.4" r="2.55" fill="#00B0F6"/>
<circle cx="623.3" cy="501.7" r="2.55" fill="#00B0F6"/>
<circle cx="613.3" cy="542.8" r="2.55" fill="#00B0F6"/>
<circle cx="616.1" cy="548.9" r="2.55" fill="#00B0F6"/>
<circle cx="568.0" cy="546.8" r="2.55" fill="#00B0F6"/>
<circle cx="574.9" cy="547.0" r="2.55" fill="#00B0F6"/>
<circle cx="590.6" cy="547.4" r="2.55" fill="#00B0F6"/>
<circle cx="548.3" cy="554.2" r="2.55" fill="#00B0F6"/>
<circle cx="571.4" cy="558.1" r="2.55" fill="#00B0F6"/>
<circle cx="565.6" cy="574.6" r="2.55" fill="#00B0F6"/>
<circle cx="579.6" cy="573.7" r="2.55" fill="#00B0F6"/>
<circle cx="548.7" cy="465.3" r="2.55" fill="#E76BF3"/>
<circle cx="576.8" cy="490.2" r="2.55" fill="#E76BF3"/>
<circle cx="476.4" cy="496.8" r="2.55" fill="#E76BF3"/>
<circle cx="458.6" cy="525.2" r="2.55" fill="#E76BF3"/>
<circle cx="467.5" cy="526.6" r="2.55" fill="#E76BF3"/>
<circle cx="454.6" cy="532.0" r="2.55" fill="#E76BF3"/>
<circle cx="488.2" cy="526.6" r="2.55" fill="#E76BF3"/>
<circle cx="491.3" cy="543.5" r="2.55" fill="#E76BF3"/>
<circle cx="498.3" cy="526.5" r="2.55" fill="#E76BF3"/>
<circle cx="504.6" cy="535.8" r="2.55" fill="#E76BF3"/>
<circle cx="502.2" cy="543.4" r="2.55" fill="#E76BF3"/>
<circle cx="542.1" cy="536.4" r="2.55" fill="#E76BF3"/>
<circle cx="541.2" cy="541.6" r="2.55" fill="#E76BF3"/>
<circle cx="544.2" cy="541.6" r="2.55" fill="#E76BF3"/>
<circle cx="524.5" cy="543.8" r="2.55" fill="#E76BF3"/>
<circle cx="567.9" cy="526.5" r="2.55" fill="#E76BF3"/>
<circle cx="550.3" cy="533.3" r="2.55" fill="#E76BF3"/>
<circle cx="577.7" cy="537.2" r="2.55" fill="#E76BF3"/>
<circle cx="608.4" cy="536.5" r="2.55" fill="#E76BF3"/>
<circle cx="597.9" cy="550.9" r="2.55" fill="#E76BF3"/>
<circle cx="603.6" cy="553.8" r="2.55" fill="#E76BF3"/>
<circle cx="506.3" cy="556.0" r="2.55" fill="#E76BF3"/>
<circle cx="510.3" cy="553.3" r="2.55" fill="#E76BF3"/>
<circle cx="515.5" cy="550.3" r="2.55" fill="#E76BF3"/>
<circle cx="520.3" cy="557.5" r="2.55" fill="#E76BF3"/>
<circle cx="563.2" cy="545.7" r="2.55" fill="#E76BF3"/>
<circle cx="552.0" cy="556.0" r="2.55" fill="#E76BF3"/>
<ellipse cx="573.45" cy="527.67" rx="55.54" ry="96.83" transform="rotate(-87.99 573.45 527.67)" fill="none" stroke="#F8766D" stroke-width="1.1"/>
<ellipse cx="531.26" cy="527.91" rx="81.34" ry="127.95" transform="rotate(-112.84 531.26 527.91)" fill="none" stroke="#A3A500" stroke-width="1.1"/>
<ellipse cx="569.76" cy="534.72" rx="24.06" ry="82.87" transform="rotate(-59.44 569.76 534.72)" fill="none" stroke="#00BF7D" stroke-width="1.1"/>
<ellipse cx="571.25" cy="528.15" rx="59.70" ry="74.19" transform="rotate(156.90 571.25 528.15)" fill="none" stroke="#00B0F6" stroke-width="1.1"/>
<ellipse cx="525.87" cy="538.40" rx="35.33" ry="100.75" transform="rotate(-84.50 525.87 538.40)" fill="none" stroke="#E76BF3" stroke-width="1.1"/>
</g>
<rect x="396.9" y="417.1" width="285.00" height="210.60" fill="none" stroke="#333333" stroke-width="0.9"/>
<line x1="438.00" y1="627.7" x2="438.00" y2="631.6" stroke="#222" stroke-width="1.2"/>
<text x="437.60" y="642.90" font-size="10.9" text-anchor="middle" font-weight="normal" fill="#000" >-10</text>
<line x1="495.15" y1="627.7" x2="495.15" y2="631.6" stroke="#222" stroke-width="1.2"/>
<text x="494.75" y="642.90" font-size="10.9" text-anchor="middle" font-weight="normal" fill="#000" >-5</text>
<line x1="552.30" y1="627.7" x2="552.30" y2="631.6" stroke="#222" stroke-width="1.2"/>
<text x="551.90" y="642.90" font-size="10.9" text-anchor="middle" font-weight="normal" fill="#000" >0</text>
<line x1="609.45" y1="627.7" x2="609.45" y2="631.6" stroke="#222" stroke-width="1.2"/>
<text x="609.05" y="642.90" font-size="10.9" text-anchor="middle" font-weight="normal" fill="#000" >5</text>
<line x1="666.60" y1="627.7" x2="666.60" y2="631.6" stroke="#222" stroke-width="1.2"/>
<text x="666.20" y="642.90" font-size="10.9" text-anchor="middle" font-weight="normal" fill="#000" >10</text>
<line x1="393.0" y1="432.40" x2="396.9" y2="432.40" stroke="#222" stroke-width="1.2"/>
<text x="390.10" y="436.60" font-size="10.9" text-anchor="end" font-weight="normal" fill="#000" >6</text>
<line x1="393.0" y1="480.10" x2="396.9" y2="480.10" stroke="#222" stroke-width="1.2"/>
<text x="390.10" y="484.30" font-size="10.9" text-anchor="end" font-weight="normal" fill="#000" >3</text>
<line x1="393.0" y1="527.80" x2="396.9" y2="527.80" stroke="#222" stroke-width="1.2"/>
<text x="390.10" y="532.00" font-size="10.9" text-anchor="end" font-weight="normal" fill="#000" >0</text>
<line x1="393.0" y1="575.50" x2="396.9" y2="575.50" stroke="#222" stroke-width="1.2"/>
<text x="390.10" y="579.70" font-size="10.9" text-anchor="end" font-weight="normal" fill="#000" >-3</text>
<line x1="393.0" y1="623.20" x2="396.9" y2="623.20" stroke="#222" stroke-width="1.2"/>
<text x="390.10" y="627.40" font-size="10.9" text-anchor="end" font-weight="normal" fill="#000" >-6</text>
<text x="396.50" y="408.60" font-size="16.7" text-anchor="start" font-weight="normal" fill="#000" >Chemical shift</text>
<text x="539.40" y="660.10" font-size="14.1" text-anchor="middle" font-weight="normal" fill="#000" >PC1 ( 44.891%)</text>
<text x="0.00" y="0.00" font-size="14.1" text-anchor="middle" font-weight="normal" fill="#000" transform="translate(370.90,522.40) rotate(-90)">PC2 ( 11.284%)</text>
<clipPath id="cP3L"><rect x="39.0" y="774.8" width="285.0" height="210.70000000000005"/></clipPath>
<g clip-path="url(#cP3L)">
<circle cx="160.1" cy="808.2" r="2.55" fill="#F8766D"/>
<circle cx="170.4" cy="810.5" r="2.55" fill="#F8766D"/>
<circle cx="174.4" cy="807.1" r="2.55" fill="#F8766D"/>
<circle cx="140.7" cy="813.9" r="2.55" fill="#F8766D"/>
<circle cx="143.3" cy="817.8" r="2.55" fill="#F8766D"/>
<circle cx="152.2" cy="813.3" r="2.55" fill="#F8766D"/>
<circle cx="183.5" cy="820.3" r="2.55" fill="#F8766D"/>
<circle cx="95.1" cy="824.2" r="2.55" fill="#F8766D"/>
<circle cx="92.3" cy="830.5" r="2.55" fill="#F8766D"/>
<circle cx="135.4" cy="825.9" r="2.55" fill="#F8766D"/>
<circle cx="155.6" cy="827.8" r="2.55" fill="#F8766D"/>
<circle cx="180.4" cy="834.8" r="2.55" fill="#F8766D"/>
<circle cx="134.3" cy="836.3" r="2.55" fill="#F8766D"/>
<circle cx="101.3" cy="845.7" r="2.55" fill="#F8766D"/>
<circle cx="107.9" cy="842.7" r="2.55" fill="#F8766D"/>
<circle cx="121.8" cy="842.3" r="2.55" fill="#F8766D"/>
<circle cx="127.1" cy="841.8" r="2.55" fill="#F8766D"/>
<circle cx="122.4" cy="847.2" r="2.55" fill="#F8766D"/>
<circle cx="110.5" cy="852.3" r="2.55" fill="#F8766D"/>
<circle cx="140.5" cy="847.6" r="2.55" fill="#F8766D"/>
<circle cx="158.0" cy="841.6" r="2.55" fill="#F8766D"/>
<circle cx="165.0" cy="850.4" r="2.55" fill="#F8766D"/>
<circle cx="88.5" cy="866.8" r="2.55" fill="#F8766D"/>
<circle cx="158.4" cy="873.6" r="2.55" fill="#F8766D"/>
<circle cx="182.9" cy="866.8" r="2.55" fill="#F8766D"/>
<circle cx="225.3" cy="805.2" r="2.55" fill="#F8766D"/>
<circle cx="240.9" cy="807.8" r="2.55" fill="#F8766D"/>
<circle cx="206.1" cy="817.3" r="2.55" fill="#F8766D"/>
<circle cx="219.3" cy="823.3" r="2.55" fill="#F8766D"/>
<circle cx="195.7" cy="827.5" r="2.55" fill="#F8766D"/>
<circle cx="205.2" cy="830.9" r="2.55" fill="#F8766D"/>
<circle cx="218.4" cy="836.5" r="2.55" fill="#F8766D"/>
<circle cx="210.0" cy="840.4" r="2.55" fill="#F8766D"/>
<circle cx="195.9" cy="842.6" r="2.55" fill="#F8766D"/>
<circle cx="239.1" cy="837.4" r="2.55" fill="#F8766D"/>
<circle cx="251.0" cy="838.5" r="2.55" fill="#F8766D"/>
<circle cx="205.7" cy="851.2" r="2.55" fill="#F8766D"/>
<circle cx="197.0" cy="853.4" r="2.55" fill="#F8766D"/>
<circle cx="229.9" cy="853.6" r="2.55" fill="#F8766D"/>
<circle cx="257.7" cy="854.7" r="2.55" fill="#F8766D"/>
<circle cx="259.9" cy="864.2" r="2.55" fill="#F8766D"/>
<circle cx="257.5" cy="867.4" r="2.55" fill="#F8766D"/>
<circle cx="262.7" cy="869.8" r="2.55" fill="#F8766D"/>
<circle cx="267.0" cy="873.0" r="2.55" fill="#F8766D"/>
<circle cx="276.1" cy="865.5" r="2.55" fill="#F8766D"/>
<circle cx="293.6" cy="865.5" r="2.55" fill="#F8766D"/>
<circle cx="221.2" cy="868.9" r="2.55" fill="#F8766D"/>
<circle cx="185.1" cy="875.2" r="2.55" fill="#F8766D"/>
<circle cx="242.0" cy="877.0" r="2.55" fill="#F8766D"/>
<circle cx="54.0" cy="897.2" r="2.55" fill="#F8766D"/>
<circle cx="85.3" cy="948.0" r="2.55" fill="#F8766D"/>
<circle cx="116.6" cy="888.1" r="2.55" fill="#F8766D"/>
<circle cx="154.4" cy="891.9" r="2.55" fill="#F8766D"/>
<circle cx="171.0" cy="893.8" r="2.55" fill="#F8766D"/>
<circle cx="195.3" cy="887.4" r="2.55" fill="#F8766D"/>
<circle cx="281.7" cy="908.5" r="2.55" fill="#F8766D"/>
<circle cx="153.3" cy="799.2" r="2.55" fill="#00BFC4"/>
<circle cx="179.5" cy="806.7" r="2.55" fill="#00BFC4"/>
<circle cx="152.2" cy="816.5" r="2.55" fill="#00BFC4"/>
<circle cx="173.3" cy="823.3" r="2.55" fill="#00BFC4"/>
<circle cx="154.2" cy="832.5" r="2.55" fill="#00BFC4"/>
<circle cx="174.0" cy="831.6" r="2.55" fill="#00BFC4"/>
<circle cx="171.6" cy="835.2" r="2.55" fill="#00BFC4"/>
<circle cx="97.0" cy="834.8" r="2.55" fill="#00BFC4"/>
<circle cx="135.8" cy="837.4" r="2.55" fill="#00BFC4"/>
<circle cx="124.7" cy="842.3" r="2.55" fill="#00BFC4"/>
<circle cx="164.6" cy="841.6" r="2.55" fill="#00BFC4"/>
<circle cx="182.9" cy="847.6" r="2.55" fill="#00BFC4"/>
<circle cx="123.3" cy="857.2" r="2.55" fill="#00BFC4"/>
<circle cx="127.5" cy="865.3" r="2.55" fill="#00BFC4"/>
<circle cx="143.5" cy="863.2" r="2.55" fill="#00BFC4"/>
<circle cx="165.2" cy="864.2" r="2.55" fill="#00BFC4"/>
<circle cx="151.8" cy="872.1" r="2.55" fill="#00BFC4"/>
<circle cx="179.5" cy="862.5" r="2.55" fill="#00BFC4"/>
<circle cx="182.3" cy="861.4" r="2.55" fill="#00BFC4"/>
<circle cx="177.6" cy="869.3" r="2.55" fill="#00BFC4"/>
<circle cx="180.4" cy="870.6" r="2.55" fill="#00BFC4"/>
<circle cx="174.0" cy="878.9" r="2.55" fill="#00BFC4"/>
<circle cx="193.1" cy="813.6" r="2.55" fill="#00BFC4"/>
<circle cx="200.0" cy="814.1" r="2.55" fill="#00BFC4"/>
<circle cx="209.8" cy="816.9" r="2.55" fill="#00BFC4"/>
<circle cx="207.6" cy="819.5" r="2.55" fill="#00BFC4"/>
<circle cx="214.7" cy="827.5" r="2.55" fill="#00BFC4"/>
<circle cx="204.8" cy="834.8" r="2.55" fill="#00BFC4"/>
<circle cx="205.7" cy="836.3" r="2.55" fill="#00BFC4"/>
<circle cx="203.1" cy="841.7" r="2.55" fill="#00BFC4"/>
<circle cx="213.0" cy="840.4" r="2.55" fill="#00BFC4"/>
<circle cx="212.6" cy="848.6" r="2.55" fill="#00BFC4"/>
<circle cx="230.1" cy="843.4" r="2.55" fill="#00BFC4"/>
<circle cx="234.4" cy="841.7" r="2.55" fill="#00BFC4"/>
<circle cx="245.2" cy="846.5" r="2.55" fill="#00BFC4"/>
<circle cx="260.8" cy="834.6" r="2.55" fill="#00BFC4"/>
<circle cx="202.8" cy="855.8" r="2.55" fill="#00BFC4"/>
<circle cx="219.5" cy="855.5" r="2.55" fill="#00BFC4"/>
<circle cx="227.3" cy="849.3" r="2.55" fill="#00BFC4"/>
<circle cx="227.3" cy="854.7" r="2.55" fill="#00BFC4"/>
<circle cx="229.2" cy="857.3" r="2.55" fill="#00BFC4"/>
<circle cx="220.8" cy="861.6" r="2.55" fill="#00BFC4"/>
<circle cx="235.7" cy="859.4" r="2.55" fill="#00BFC4"/>
<circle cx="237.9" cy="864.4" r="2.55" fill="#00BFC4"/>
<circle cx="186.0" cy="860.5" r="2.55" fill="#00BFC4"/>
<circle cx="191.0" cy="865.5" r="2.55" fill="#00BFC4"/>
<circle cx="188.8" cy="871.3" r="2.55" fill="#00BFC4"/>
<circle cx="213.7" cy="874.1" r="2.55" fill="#00BFC4"/>
<circle cx="242.0" cy="874.6" r="2.55" fill="#00BFC4"/>
<circle cx="272.6" cy="872.0" r="2.55" fill="#00BFC4"/>
<circle cx="63.8" cy="919.2" r="2.55" fill="#00BFC4"/>
<circle cx="163.3" cy="976.1" r="2.55" fill="#00BFC4"/>
<circle cx="176.5" cy="884.9" r="2.55" fill="#00BFC4"/>
<circle cx="187.1" cy="885.2" r="2.55" fill="#00BFC4"/>
<circle cx="295.3" cy="892.6" r="2.55" fill="#00BFC4"/>
<ellipse cx="181.40" cy="845.10" rx="60.05" ry="130.25" transform="rotate(-85.26 181.40 845.10)" fill="none" stroke="#F8766D" stroke-width="1.1"/>
<ellipse cx="194.15" cy="850.00" rx="52.58" ry="87.56" transform="rotate(-88.83 194.15 850.00)" fill="none" stroke="#00BFC4" stroke-width="1.1"/>
</g>
<rect x="39.0" y="774.8" width="285.00" height="210.70" fill="none" stroke="#333333" stroke-width="0.9"/>
<line x1="57.50" y1="985.5" x2="57.50" y2="989.4" stroke="#222" stroke-width="1.2"/>
<text x="57.10" y="1000.70" font-size="10.9" text-anchor="middle" font-weight="normal" fill="#000" >-6</text>
<line x1="121.50" y1="985.5" x2="121.50" y2="989.4" stroke="#222" stroke-width="1.2"/>
<text x="121.10" y="1000.70" font-size="10.9" text-anchor="middle" font-weight="normal" fill="#000" >-3</text>
<line x1="185.50" y1="985.5" x2="185.50" y2="989.4" stroke="#222" stroke-width="1.2"/>
<text x="185.10" y="1000.70" font-size="10.9" text-anchor="middle" font-weight="normal" fill="#000" >0</text>
<line x1="249.50" y1="985.5" x2="249.50" y2="989.4" stroke="#222" stroke-width="1.2"/>
<text x="249.10" y="1000.70" font-size="10.9" text-anchor="middle" font-weight="normal" fill="#000" >3</text>
<line x1="313.50" y1="985.5" x2="313.50" y2="989.4" stroke="#222" stroke-width="1.2"/>
<text x="313.10" y="1000.70" font-size="10.9" text-anchor="middle" font-weight="normal" fill="#000" >6</text>
<line x1="35.1" y1="785.70" x2="39.0" y2="785.70" stroke="#222" stroke-width="1.2"/>
<text x="32.20" y="789.90" font-size="10.9" text-anchor="end" font-weight="normal" fill="#000" >4</text>
<line x1="35.1" y1="850.30" x2="39.0" y2="850.30" stroke="#222" stroke-width="1.2"/>
<text x="32.20" y="854.50" font-size="10.9" text-anchor="end" font-weight="normal" fill="#000" >0</text>
<line x1="35.1" y1="914.90" x2="39.0" y2="914.90" stroke="#222" stroke-width="1.2"/>
<text x="32.20" y="919.10" font-size="10.9" text-anchor="end" font-weight="normal" fill="#000" >-4</text>
<line x1="35.1" y1="979.50" x2="39.0" y2="979.50" stroke="#222" stroke-width="1.2"/>
<text x="32.20" y="983.70" font-size="10.9" text-anchor="end" font-weight="normal" fill="#000" >-8</text>
<text x="38.60" y="766.30" font-size="16.7" text-anchor="start" font-weight="normal" fill="#000" >Metabolite concentration</text>
<text x="181.50" y="1017.90" font-size="14.1" text-anchor="middle" font-weight="normal" fill="#000" >PC1 ( 18.886%)</text>
<text x="0.00" y="0.00" font-size="14.1" text-anchor="middle" font-weight="normal" fill="#000" transform="translate(13.40,880.15) rotate(-90)">PC2 ( 10.567%)</text>
<clipPath id="cP3R"><rect x="406.5" y="774.8" width="275.4" height="210.70000000000005"/></clipPath>
<g clip-path="url(#cP3R)">
<circle cx="489.2" cy="784.0" r="2.55" fill="#F8766D"/>
<circle cx="538.3" cy="795.4" r="2.55" fill="#F8766D"/>
<circle cx="535.4" cy="813.2" r="2.55" fill="#F8766D"/>
<circle cx="523.4" cy="817.2" r="2.55" fill="#F8766D"/>
<circle cx="533.3" cy="825.0" r="2.55" fill="#F8766D"/>
<circle cx="535.8" cy="829.0" r="2.55" fill="#F8766D"/>
<circle cx="531.2" cy="830.6" r="2.55" fill="#F8766D"/>
<circle cx="546.4" cy="823.7" r="2.55" fill="#F8766D"/>
<circle cx="515.3" cy="827.1" r="2.55" fill="#F8766D"/>
<circle cx="503.5" cy="829.2" r="2.55" fill="#F8766D"/>
<circle cx="491.6" cy="837.1" r="2.55" fill="#F8766D"/>
<circle cx="499.7" cy="841.2" r="2.55" fill="#F8766D"/>
<circle cx="515.1" cy="841.4" r="2.55" fill="#F8766D"/>
<circle cx="518.4" cy="840.4" r="2.55" fill="#F8766D"/>
<circle cx="520.3" cy="837.9" r="2.55" fill="#F8766D"/>
<circle cx="484.4" cy="848.0" r="2.55" fill="#F8766D"/>
<circle cx="480.2" cy="852.6" r="2.55" fill="#F8766D"/>
<circle cx="497.7" cy="849.5" r="2.55" fill="#F8766D"/>
<circle cx="496.4" cy="857.0" r="2.55" fill="#F8766D"/>
<circle cx="499.9" cy="855.9" r="2.55" fill="#F8766D"/>
<circle cx="505.3" cy="854.3" r="2.55" fill="#F8766D"/>
<circle cx="509.9" cy="856.3" r="2.55" fill="#F8766D"/>
<circle cx="531.5" cy="849.3" r="2.55" fill="#F8766D"/>
<circle cx="545.1" cy="848.2" r="2.55" fill="#F8766D"/>
<circle cx="546.2" cy="842.4" r="2.55" fill="#F8766D"/>
<circle cx="454.3" cy="856.7" r="2.55" fill="#F8766D"/>
<circle cx="438.8" cy="859.2" r="2.55" fill="#F8766D"/>
<circle cx="447.5" cy="867.5" r="2.55" fill="#F8766D"/>
<circle cx="471.7" cy="863.8" r="2.55" fill="#F8766D"/>
<circle cx="480.7" cy="862.3" r="2.55" fill="#F8766D"/>
<circle cx="482.7" cy="866.3" r="2.55" fill="#F8766D"/>
<circle cx="505.1" cy="875.0" r="2.55" fill="#F8766D"/>
<circle cx="522.3" cy="875.4" r="2.55" fill="#F8766D"/>
<circle cx="581.0" cy="795.0" r="2.55" fill="#F8766D"/>
<circle cx="564.6" cy="801.4" r="2.55" fill="#F8766D"/>
<circle cx="549.3" cy="805.8" r="2.55" fill="#F8766D"/>
<circle cx="574.0" cy="808.2" r="2.55" fill="#F8766D"/>
<circle cx="559.2" cy="816.1" r="2.55" fill="#F8766D"/>
<circle cx="577.5" cy="837.9" r="2.55" fill="#F8766D"/>
<circle cx="565.5" cy="840.8" r="2.55" fill="#F8766D"/>
<circle cx="587.2" cy="842.4" r="2.55" fill="#F8766D"/>
<circle cx="549.3" cy="842.4" r="2.55" fill="#F8766D"/>
<circle cx="548.9" cy="848.2" r="2.55" fill="#F8766D"/>
<circle cx="550.3" cy="851.4" r="2.55" fill="#F8766D"/>
<circle cx="553.4" cy="851.4" r="2.55" fill="#F8766D"/>
<circle cx="559.7" cy="848.2" r="2.55" fill="#F8766D"/>
<circle cx="564.8" cy="851.2" r="2.55" fill="#F8766D"/>
<circle cx="556.5" cy="858.0" r="2.55" fill="#F8766D"/>
<circle cx="558.0" cy="859.7" r="2.55" fill="#F8766D"/>
<circle cx="481.9" cy="890.9" r="2.55" fill="#F8766D"/>
<circle cx="540.2" cy="885.9" r="2.55" fill="#F8766D"/>
<circle cx="568.0" cy="886.7" r="2.55" fill="#F8766D"/>
<circle cx="583.9" cy="887.4" r="2.55" fill="#F8766D"/>
<circle cx="640.1" cy="890.9" r="2.55" fill="#F8766D"/>
<circle cx="646.5" cy="912.2" r="2.55" fill="#F8766D"/>
<circle cx="613.3" cy="928.8" r="2.55" fill="#F8766D"/>
<circle cx="539.7" cy="834.2" r="2.55" fill="#00BFC4"/>
<circle cx="517.1" cy="864.4" r="2.55" fill="#00BFC4"/>
<circle cx="522.1" cy="871.7" r="2.55" fill="#00BFC4"/>
<circle cx="530.2" cy="872.1" r="2.55" fill="#00BFC4"/>
<circle cx="527.9" cy="875.4" r="2.55" fill="#00BFC4"/>
<circle cx="526.9" cy="879.3" r="2.55" fill="#00BFC4"/>
<circle cx="546.5" cy="871.5" r="2.55" fill="#00BFC4"/>
<circle cx="554.5" cy="816.1" r="2.55" fill="#00BFC4"/>
<circle cx="578.3" cy="812.0" r="2.55" fill="#00BFC4"/>
<circle cx="565.9" cy="823.8" r="2.55" fill="#00BFC4"/>
<circle cx="669.1" cy="827.3" r="2.55" fill="#00BFC4"/>
<circle cx="572.7" cy="836.6" r="2.55" fill="#00BFC4"/>
<circle cx="629.5" cy="847.2" r="2.55" fill="#00BFC4"/>
<circle cx="660.6" cy="849.7" r="2.55" fill="#00BFC4"/>
<circle cx="656.5" cy="852.8" r="2.55" fill="#00BFC4"/>
<circle cx="580.8" cy="852.4" r="2.55" fill="#00BFC4"/>
<circle cx="591.6" cy="851.4" r="2.55" fill="#00BFC4"/>
<circle cx="597.4" cy="855.3" r="2.55" fill="#00BFC4"/>
<circle cx="583.1" cy="859.2" r="2.55" fill="#00BFC4"/>
<circle cx="573.5" cy="860.5" r="2.55" fill="#00BFC4"/>
<circle cx="578.7" cy="862.8" r="2.55" fill="#00BFC4"/>
<circle cx="574.2" cy="866.3" r="2.55" fill="#00BFC4"/>
<circle cx="561.7" cy="862.6" r="2.55" fill="#00BFC4"/>
<circle cx="599.0" cy="864.4" r="2.55" fill="#00BFC4"/>
<circle cx="610.9" cy="863.6" r="2.55" fill="#00BFC4"/>
<circle cx="616.0" cy="865.2" r="2.55" fill="#00BFC4"/>
<circle cx="619.8" cy="864.2" r="2.55" fill="#00BFC4"/>
<circle cx="612.5" cy="868.8" r="2.55" fill="#00BFC4"/>
<circle cx="607.7" cy="873.5" r="2.55" fill="#00BFC4"/>
<circle cx="604.2" cy="877.3" r="2.55" fill="#00BFC4"/>
<circle cx="590.3" cy="876.7" r="2.55" fill="#00BFC4"/>
<circle cx="570.0" cy="875.2" r="2.55" fill="#00BFC4"/>
<circle cx="597.0" cy="881.0" r="2.55" fill="#00BFC4"/>
<circle cx="539.5" cy="888.4" r="2.55" fill="#00BFC4"/>
<circle cx="531.7" cy="896.1" r="2.55" fill="#00BFC4"/>
<circle cx="536.8" cy="897.3" r="2.55" fill="#00BFC4"/>
<circle cx="546.3" cy="908.3" r="2.55" fill="#00BFC4"/>
<circle cx="470.7" cy="919.3" r="2.55" fill="#00BFC4"/>
<circle cx="510.3" cy="934.6" r="2.55" fill="#00BFC4"/>
<circle cx="505.3" cy="939.2" r="2.55" fill="#00BFC4"/>
<circle cx="539.7" cy="952.7" r="2.55" fill="#00BFC4"/>
<circle cx="418.5" cy="976.5" r="2.55" fill="#00BFC4"/>
<circle cx="556.5" cy="887.4" r="2.55" fill="#00BFC4"/>
<circle cx="552.4" cy="902.5" r="2.55" fill="#00BFC4"/>
<circle cx="548.7" cy="917.4" r="2.55" fill="#00BFC4"/>
<circle cx="549.3" cy="933.4" r="2.55" fill="#00BFC4"/>
<circle cx="576.2" cy="897.7" r="2.55" fill="#00BFC4"/>
<circle cx="579.3" cy="897.1" r="2.55" fill="#00BFC4"/>
<circle cx="589.1" cy="901.5" r="2.55" fill="#00BFC4"/>
<circle cx="583.5" cy="911.2" r="2.55" fill="#00BFC4"/>
<circle cx="610.0" cy="889.0" r="2.55" fill="#00BFC4"/>
<circle cx="606.3" cy="896.1" r="2.55" fill="#00BFC4"/>
<circle cx="607.7" cy="922.0" r="2.55" fill="#00BFC4"/>
<circle cx="571.7" cy="963.0" r="2.55" fill="#00BFC4"/>
<ellipse cx="529.80" cy="845.10" rx="54.22" ry="89.48" transform="rotate(-97.44 529.80 845.10)" fill="none" stroke="#F8766D" stroke-width="1.1"/>
<ellipse cx="572.55" cy="877.75" rx="59.88" ry="100.39" transform="rotate(-117.88 572.55 877.75)" fill="none" stroke="#00BFC4" stroke-width="1.1"/>
</g>
<rect x="406.5" y="774.8" width="275.40" height="210.70" fill="none" stroke="#333333" stroke-width="0.9"/>
<line x1="427.50" y1="985.5" x2="427.50" y2="989.4" stroke="#222" stroke-width="1.2"/>
<text x="427.10" y="1000.70" font-size="10.9" text-anchor="middle" font-weight="normal" fill="#000" >-10</text>
<line x1="489.20" y1="985.5" x2="489.20" y2="989.4" stroke="#222" stroke-width="1.2"/>
<text x="488.80" y="1000.70" font-size="10.9" text-anchor="middle" font-weight="normal" fill="#000" >-5</text>
<line x1="550.90" y1="985.5" x2="550.90" y2="989.4" stroke="#222" stroke-width="1.2"/>
<text x="550.50" y="1000.70" font-size="10.9" text-anchor="middle" font-weight="normal" fill="#000" >0</text>
<line x1="612.60" y1="985.5" x2="612.60" y2="989.4" stroke="#222" stroke-width="1.2"/>
<text x="612.20" y="1000.70" font-size="10.9" text-anchor="middle" font-weight="normal" fill="#000" >5</text>
<line x1="674.30" y1="985.5" x2="674.30" y2="989.4" stroke="#222" stroke-width="1.2"/>
<text x="673.90" y="1000.70" font-size="10.9" text-anchor="middle" font-weight="normal" fill="#000" >10</text>
<line x1="402.6" y1="787.70" x2="406.5" y2="787.70" stroke="#222" stroke-width="1.2"/>
<text x="399.70" y="791.90" font-size="10.9" text-anchor="end" font-weight="normal" fill="#000" >5.0</text>
<line x1="402.6" y1="825.65" x2="406.5" y2="825.65" stroke="#222" stroke-width="1.2"/>
<text x="399.70" y="829.85" font-size="10.9" text-anchor="end" font-weight="normal" fill="#000" >2.5</text>
<line x1="402.6" y1="863.60" x2="406.5" y2="863.60" stroke="#222" stroke-width="1.2"/>
<text x="399.70" y="867.80" font-size="10.9" text-anchor="end" font-weight="normal" fill="#000" >0.0</text>
<line x1="402.6" y1="901.55" x2="406.5" y2="901.55" stroke="#222" stroke-width="1.2"/>
<text x="399.70" y="905.75" font-size="10.9" text-anchor="end" font-weight="normal" fill="#000" >-2.5</text>
<line x1="402.6" y1="939.50" x2="406.5" y2="939.50" stroke="#222" stroke-width="1.2"/>
<text x="399.70" y="943.70" font-size="10.9" text-anchor="end" font-weight="normal" fill="#000" >-5.0</text>
<line x1="402.6" y1="977.45" x2="406.5" y2="977.45" stroke="#222" stroke-width="1.2"/>
<text x="399.70" y="981.65" font-size="10.9" text-anchor="end" font-weight="normal" fill="#000" >-7.5</text>
<text x="406.10" y="766.30" font-size="16.7" text-anchor="start" font-weight="normal" fill="#000" >Chemical shift</text>
<text x="544.20" y="1017.90" font-size="14.1" text-anchor="middle" font-weight="normal" fill="#000" >PC1 ( 53.005%)</text>
<text x="0.00" y="0.00" font-size="14.1" text-anchor="middle" font-weight="normal" fill="#000" transform="translate(370.90,880.15) rotate(-90)">PC2 ( 19.501%)</text>
<text x="243.30" y="344.80" font-size="14.1" text-anchor="start" font-weight="normal" fill="#000" >group</text>
<rect x="284.30" y="329.20" width="20.6" height="20.6" fill="#f2f2f2"/>
<line x1="286.00" y1="339.50" x2="303.20" y2="339.50" stroke="#F8766D" stroke-width="1.1"/>
<circle cx="294.60" cy="339.50" r="2.55" fill="#F8766D"/>
<text x="308.40" y="344.20" font-size="11.0" text-anchor="start" font-weight="normal" fill="#000" >Diabetic</text>
<rect x="354.80" y="329.20" width="20.6" height="20.6" fill="#f2f2f2"/>
<line x1="356.50" y1="339.50" x2="373.70" y2="339.50" stroke="#00BFC4" stroke-width="1.1"/>
<circle cx="365.10" cy="339.50" r="2.55" fill="#00BFC4"/>
<text x="378.70" y="344.20" font-size="11.0" text-anchor="start" font-weight="normal" fill="#000" >Nondiabetic</text>
<text x="133.30" y="702.80" font-size="14.1" text-anchor="start" font-weight="normal" fill="#000" >group</text>
<rect x="174.80" y="687.20" width="20.6" height="20.6" fill="#f2f2f2"/>
<line x1="176.50" y1="697.50" x2="193.70" y2="697.50" stroke="#F8766D" stroke-width="1.1"/>
<circle cx="185.10" cy="697.50" r="2.55" fill="#F8766D"/>
<text x="199.10" y="702.20" font-size="11.0" text-anchor="start" font-weight="normal" fill="#000" >activeCD</text>
<rect x="248.60" y="687.20" width="20.6" height="20.6" fill="#f2f2f2"/>
<line x1="250.30" y1="697.50" x2="267.50" y2="697.50" stroke="#A3A500" stroke-width="1.1"/>
<circle cx="258.90" cy="697.50" r="2.55" fill="#A3A500"/>
<text x="272.50" y="702.20" font-size="11.0" text-anchor="start" font-weight="normal" fill="#000" >activeUC</text>
<rect x="322.30" y="687.20" width="20.6" height="20.6" fill="#f2f2f2"/>
<line x1="324.00" y1="697.50" x2="341.20" y2="697.50" stroke="#00BF7D" stroke-width="1.1"/>
<circle cx="332.60" cy="697.50" r="2.55" fill="#00BF7D"/>
<text x="346.30" y="702.20" font-size="11.0" text-anchor="start" font-weight="normal" fill="#000" >Control</text>
<rect x="387.30" y="687.20" width="20.6" height="20.6" fill="#f2f2f2"/>
<line x1="389.00" y1="697.50" x2="406.20" y2="697.50" stroke="#00B0F6" stroke-width="1.1"/>
<circle cx="397.60" cy="697.50" r="2.55" fill="#00B0F6"/>
<text x="411.40" y="702.20" font-size="11.0" text-anchor="start" font-weight="normal" fill="#000" >inactiveCD</text>
<rect x="470.50" y="687.20" width="20.6" height="20.6" fill="#f2f2f2"/>
<line x1="472.20" y1="697.50" x2="489.40" y2="697.50" stroke="#E76BF3" stroke-width="1.1"/>
<circle cx="480.80" cy="697.50" r="2.55" fill="#E76BF3"/>
<text x="494.40" y="702.20" font-size="11.0" text-anchor="start" font-weight="normal" fill="#000" >inactiveUC</text>
<text x="238.40" y="1060.70" font-size="14.1" text-anchor="start" font-weight="normal" fill="#000" >group</text>
<rect x="279.70" y="1045.10" width="20.6" height="20.6" fill="#f2f2f2"/>
<line x1="281.40" y1="1055.40" x2="298.60" y2="1055.40" stroke="#F8766D" stroke-width="1.1"/>
<circle cx="290.00" cy="1055.40" r="2.55" fill="#F8766D"/>
<text x="304.00" y="1060.10" font-size="11.0" text-anchor="start" font-weight="normal" fill="#000" >Never Smoker</text>
<rect x="381.00" y="1045.10" width="20.6" height="20.6" fill="#f2f2f2"/>
<line x1="382.70" y1="1055.40" x2="399.90" y2="1055.40" stroke="#00BFC4" stroke-width="1.1"/>
<circle cx="391.30" cy="1055.40" r="2.55" fill="#00BFC4"/>
<text x="405.10" y="1060.10" font-size="11.0" text-anchor="start" font-weight="normal" fill="#000" >Smoker</text>
</svg>
</body></html>
